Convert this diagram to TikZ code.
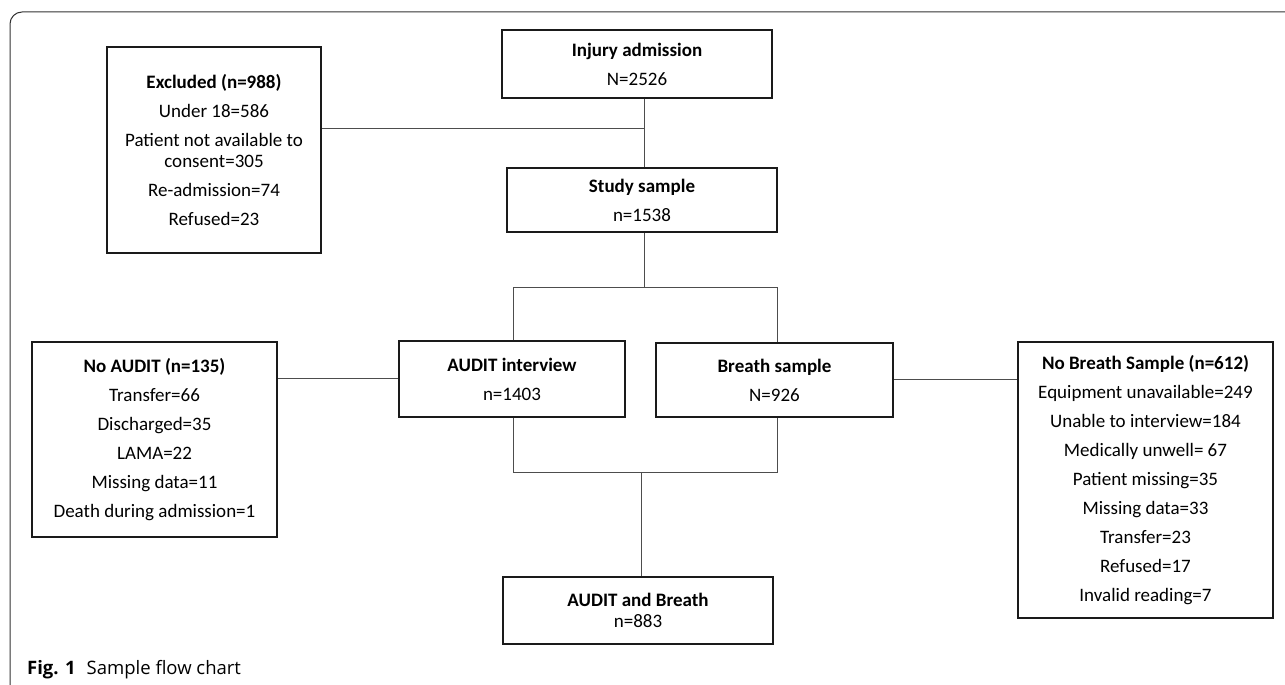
\documentclass[tikz,border=0pt]{standalone}
\usepackage{fontspec}
\setmainfont{Carlito}
\newfontfamily\capfont{Open Sans}
\definecolor{boxline}{HTML}{1A1A1A}
\definecolor{conn}{HTML}{4D4D4D}
\definecolor{frame}{HTML}{333333}
\begin{document}
\begin{tikzpicture}[x=1pt,y=-1pt,
  fbox/.style={draw=boxline, line width=1.5pt, align=center, inner sep=0pt,
    font=\fontsize{19}{21}\selectfont, text=black},
  conline/.style={draw=conn, line width=0.9pt}]
\useasboundingbox (0,0) rectangle (1285,685);
\draw[frame, line width=1pt, rounded corners=12pt] (1290,12) -- (10,12) -- (10,690);

\node[fbox, minimum width=270pt, minimum height=68pt] (inj) at (637,64)
  {\textbf{Injury admission}\\[8pt]N=2526};
\node[fbox, minimum width=270pt, minimum height=64pt] (study) at (642,200)
  {\textbf{Study sample}\\[8pt]n=1538};
\node[fbox, minimum width=214pt, minimum height=206pt] (excl) at (214,150)
  {\textbf{Excluded (n=988)}\\[8pt]Under 18=586\\[8pt]Patient not available to\\consent=305\\[8pt]Re-admission=74\\[8pt]Refused=23};
\node[fbox, minimum width=226pt, minimum height=76pt] (audit) at (512,379)
  {\textbf{AUDIT interview}\\[8pt]n=1403};
\node[fbox, minimum width=237pt, minimum height=74pt] (breath) at (774.5,380)
  {\textbf{Breath sample}\\[8pt]N=926};
\node[fbox, minimum width=245pt, minimum height=195pt] (noaudit) at (154.5,439.5)
  {\textbf{No AUDIT (n=135)}\\[8pt]Transfer=66\\[8pt]Discharged=35\\[8pt]LAMA=22\\[8pt]Missing data=11\\[8pt]Death during admission=1};
\node[fbox, minimum width=255pt, minimum height=276pt] (nobreath) at (1145.5,480)
  {\textbf{No Breath Sample (n=612)}\\[8pt]Equipment unavailable=249\\[8pt]Unable to interview=184\\[8pt]Medically unwell= 67\\[8pt]Patient missing=35\\[8pt]Missing data=33\\[8pt]Transfer=23\\[8pt]Refused=17\\[8pt]Invalid reading=7};
\node[fbox, minimum width=270pt, minimum height=67pt] (ab) at (638,610.5)
  {\textbf{AUDIT and Breath}\\n=883};

\coordinate (j1) at (644,128);
\coordinate (sL) at (513,287);
\coordinate (sR) at (777,287);
\coordinate (mL) at (513,472);
\coordinate (mR) at (777,472);
\coordinate (mC) at (641,472);
\coordinate (yA) at (0,378);
\coordinate (yB) at (0,379);

\draw[conline] (excl.east |- j1) -- (j1);
\draw[conline] (inj.south -| j1) -- (study.north -| j1);
\draw[conline] (study.south -| j1) -- (j1 |- sL);
\draw[conline] (audit.north -| sL) -- (sL) -- (sR) -- (breath.north -| sR);
\draw[conline] (audit.south -| mL) -- (mL) -- (mR) -- (breath.south -| mR);
\draw[conline] (mC) -- (ab.north -| mC);
\draw[conline] (noaudit.east |- yA) -- (audit.west |- yA);
\draw[conline] (breath.east |- yB) -- (nobreath.west |- yB);

\node[anchor=base west, inner sep=0pt, font=\capfont\fontsize{18.5}{20}\selectfont] (cap) at (27,674)
  {\textbf{Fig. 1}\hspace{11pt}Sample flow chart};
\end{tikzpicture}
\end{document}
